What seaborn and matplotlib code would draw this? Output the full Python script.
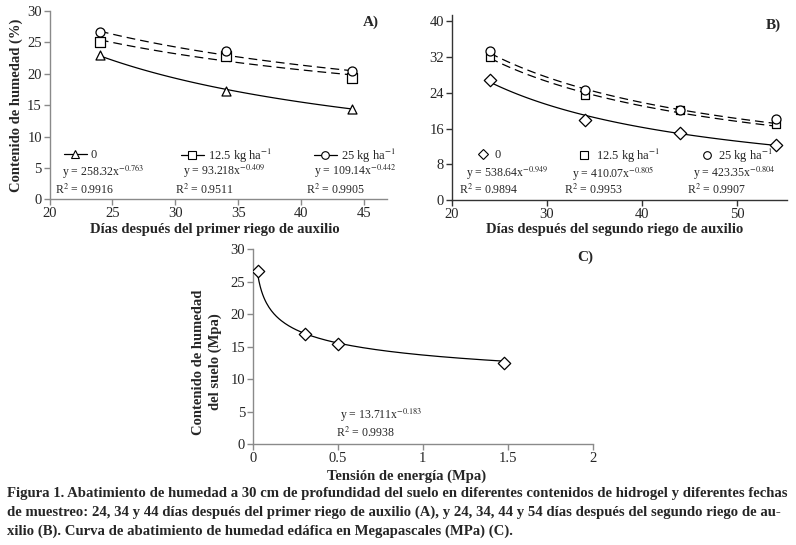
import numpy as np
import pandas as pd
import matplotlib
matplotlib.use("Agg")
import matplotlib.pyplot as plt
import seaborn as sns
from matplotlib.lines import Line2D
from matplotlib.legend import Legend

# ---------------- data ----------------
days_a = [24, 34, 44]
a_0 = [23.0, 17.2, 14.4]
a_125 = [25.0, 22.9, 19.4]
a_25 = [26.6, 23.6, 20.4]
a_coef = [258.32, 93.218, 109.14]
a_exp = [-0.763, -0.409, -0.442]
a_r2 = ["0.9916", "0.9511", "0.9905"]

days_b = [24, 34, 44, 54]
b_0 = [26.9, 18.0, 15.0, 12.2]
b_125 = [32.1, 23.6, 20.1, 16.9]
b_25 = [33.4, 24.6, 20.1, 18.2]
b_coef = [538.64, 410.07, 423.35]
b_exp = [-0.949, -0.805, -0.804]
b_r2 = ["0.9894", "0.9953", "0.9907"]

tension_c = [0.03, 0.31, 0.50, 1.48]
humedad_c = [26.6, 17.0, 15.4, 12.5]
c_coef = 13.711
c_exp = -0.183
c_r2 = "0.9938"

series_labels = ["0", "12.5 kg ha$^{-1}$", "25 kg ha$^{-1}$"]

# ---------------- style ----------------
sns.set_style("ticks")
plt.rcParams['font.family'] = ['Liberation Serif', 'DejaVu Serif']
plt.rcParams['mathtext.fontset'] = 'stix'

W, H = 796, 545
fig = plt.figure(figsize=(W / 100, H / 100), dpi=100)


def fx(x):
    return x / W


def fy(y):
    return 1 - y / H


def make_ax(l, r, b, t):
    return fig.add_axes([fx(l), fy(b), fx(r) - fx(l), fy(t) - fy(b)])


TICK_FS = 10.5
LAB_FS = 10.5
EQ_FS = 8.5
LEG_FS = 9


def style_ax(ax, color):
    sns.despine(ax=ax)
    for s in ["left", "bottom"]:
        ax.spines[s].set_color(color)
        ax.spines[s].set_linewidth(1.0)
    ax.tick_params(axis="both", direction="out", length=4, width=1.0,
                   color=color, labelsize=TICK_FS, pad=1.5)
    ax.set_facecolor("white")


dash = (0, (7, 4))
LEG_Y, EQ_Y, R2_Y = 155.5, 171.5, 190

# ---------------- Panel A ----------------
axA = make_ax(49.5, 387, 199.3, 11)
dfA = pd.DataFrame({"x": days_a * 3,
                    "y": a_0 + a_125 + a_25,
                    "s": sum([[l] * 3 for l in series_labels], [])})
markersA = ["^", "s", "o"]
stylesA = ["-", dash, dash]
for i, lab in enumerate(series_labels):
    xs = np.linspace(days_a[0], days_a[-1], 100)
    fit = pd.DataFrame({"x": xs, "y": a_coef[i] * xs ** a_exp[i]})
    sns.lineplot(data=fit, x="x", y="y", ax=axA, color="black", lw=0.9,
                 linestyle=stylesA[i], legend=False)
    sub = dfA[dfA.s == lab]
    sns.scatterplot(data=sub, x="x", y="y", ax=axA, marker=markersA[i],
                    s=42, facecolor="white", edgecolor="black", linewidth=0.9,
                    legend=False, zorder=5)
axA.set_xlim(20, 46.8)
axA.set_ylim(0, 30)
axA.set_xticks([20, 25, 30, 35, 40, 45])
axA.set_yticks([0, 5, 10, 15, 20, 25, 30])
axA.set_xlabel("")
axA.set_ylabel("")
style_ax(axA, "#8a8a8a")
fig.text(fx(371), fy(22), "A)", fontsize=11, fontweight="bold", ha="center", va="center")
fig.text(fx(215), fy(229), "Días después del primer riego de auxilio", fontsize=LAB_FS,
         fontweight="bold", ha="center", va="center")
fig.text(fx(16), fy(105), "Contenido de humedad (%)", fontsize=LAB_FS, fontweight="bold",
         rotation=90, ha="center", va="center")

legA_x = [64, 181, 314]
eqA_x = [62, 183, 314]
r2A_x = [55, 175, 306]
for i, lab in enumerate(series_labels):
    h = Line2D([], [], color="black", lw=0.9, marker=markersA[i], markersize=5.5,
               markerfacecolor="white", markeredgecolor="black", markeredgewidth=0.8)
    leg = Legend(axA, [h], [lab], loc="center left",
                 bbox_to_anchor=(fx(legA_x[i]), fy(LEG_Y)), bbox_transform=fig.transFigure,
                 frameon=False, fontsize=LEG_FS, handlelength=1.8, handletextpad=0.35,
                 borderpad=0, borderaxespad=0)
    axA.add_artist(leg)
    fig.text(fx(eqA_x[i]), fy(EQ_Y), f"y = {a_coef[i]}x$^{{{a_exp[i]}}}$", fontsize=EQ_FS,
             ha="left", va="center")
    fig.text(fx(r2A_x[i]), fy(R2_Y), f"R$^2$ = {a_r2[i]}", fontsize=EQ_FS,
             ha="left", va="center")

# ---------------- Panel B ----------------
axB = make_ax(451.7, 787, 200, 15)
markersB = ["D", "s", "o"]
stylesB = ["-", dash, dash]
valsB = [b_0, b_125, b_25]
sizesB = [40, 36, 42]
for i, lab in enumerate(series_labels):
    xs = np.linspace(days_b[0], days_b[-1], 100)
    fit = pd.DataFrame({"x": xs, "y": b_coef[i] * xs ** b_exp[i]})
    sns.lineplot(data=fit, x="x", y="y", ax=axB, color="black", lw=0.9,
                 linestyle=stylesB[i], legend=False)
    pts = pd.DataFrame({"x": days_b, "y": valsB[i]})
    sns.scatterplot(data=pts, x="x", y="y", ax=axB, marker=markersB[i],
                    s=sizesB[i], facecolor="white", edgecolor="black", linewidth=0.9,
                    legend=False, zorder=5)
axB.set_xlim(20, 55.2)
axB.set_ylim(0, 41.4)
axB.set_xticks([20, 30, 40, 50])
axB.set_yticks([0, 8, 16, 24, 32, 40])
axB.set_xlabel("")
axB.set_ylabel("")
style_ax(axB, "#333333")
fig.text(fx(773), fy(25), "B)", fontsize=11, fontweight="bold", ha="center", va="center")
fig.text(fx(615), fy(229), "Días después del segundo riego de auxilio", fontsize=LAB_FS,
         fontweight="bold", ha="center", va="center")

legB_x = [477, 578, 701]
eqB_x = [466, 572, 693]
r2B_x = [459, 564, 687]
for i, lab in enumerate(series_labels):
    h = Line2D([], [], color="none", marker=markersB[i], markersize=5.5,
               markerfacecolor="white", markeredgecolor="black", markeredgewidth=0.8)
    leg = Legend(axB, [h], [lab], loc="center left",
                 bbox_to_anchor=(fx(legB_x[i]), fy(LEG_Y)), bbox_transform=fig.transFigure,
                 frameon=False, fontsize=LEG_FS, handlelength=0.9, handletextpad=0.5,
                 borderpad=0, borderaxespad=0)
    axB.add_artist(leg)
    fig.text(fx(eqB_x[i]), fy(EQ_Y + 2), f"y = {b_coef[i]}x$^{{{b_exp[i]}}}$", fontsize=EQ_FS,
             ha="left", va="center")
    fig.text(fx(r2B_x[i]), fy(R2_Y), f"R$^2$ = {b_r2[i]}", fontsize=EQ_FS,
             ha="left", va="center")

# ---------------- Panel C ----------------
axC = make_ax(252.7, 592.7, 444, 249.3)
xs = np.linspace(tension_c[0], tension_c[-1], 200)
fitC = pd.DataFrame({"x": xs, "y": c_coef * xs ** c_exp})
sns.lineplot(data=fitC, x="x", y="y", ax=axC, color="black", lw=0.9, legend=False)
ptsC = pd.DataFrame({"x": tension_c, "y": humedad_c})
sns.scatterplot(data=ptsC, x="x", y="y", ax=axC, marker="D", s=40, facecolor="white",
                edgecolor="black", linewidth=0.9, legend=False, zorder=5)
axC.set_xlim(0, 2)
axC.set_ylim(0, 30)
axC.set_xticks([0, 0.5, 1, 1.5, 2])
axC.set_xticklabels(["0", "0.5", "1", "1.5", "2"])
axC.set_yticks([0, 5, 10, 15, 20, 25, 30])
axC.set_xlabel("")
axC.set_ylabel("")
style_ax(axC, "#8a8a8a")
fig.text(fx(585), fy(257), "C)", fontsize=11, fontweight="bold", ha="center", va="center")
fig.text(fx(407), fy(476), "Tensión de energía (Mpa)", fontsize=LAB_FS,
         fontweight="bold", ha="center", va="center")
fig.text(fx(207), fy(362), "Contenido de humedad\ndel suelo (Mpa)", fontsize=LAB_FS,
         fontweight="bold", rotation=90, ha="center", va="center", linespacing=1.35,
         multialignment="center")
fig.text(fx(340), fy(415), f"y = {c_coef}x$^{{{c_exp}}}$", fontsize=EQ_FS,
         ha="left", va="center")
fig.text(fx(336), fy(433), f"R$^2$ = {c_r2}", fontsize=EQ_FS, ha="left", va="center")

# ---------------- caption ----------------
caption = [
    "Figura 1. Abatimiento de humedad a 30 cm de profundidad del suelo en diferentes contenidos de hidrogel y diferentes fechas",
    "de muestreo: 24, 34 y 44 días después del primer riego de auxilio (A), y 24, 34, 44 y 54 días después del segundo riego de au-",
    "xilio (B). Curva de abatimiento de humedad edáfica en Megapascales (MPa) (C).",
]
for i, line in enumerate(caption):
    fig.text(fx(7), fy(494 + 18.5 * i), line, fontsize=10.6, fontweight="bold",
             ha="left", va="center")

fig.savefig("out.png", dpi=100, facecolor="white")
